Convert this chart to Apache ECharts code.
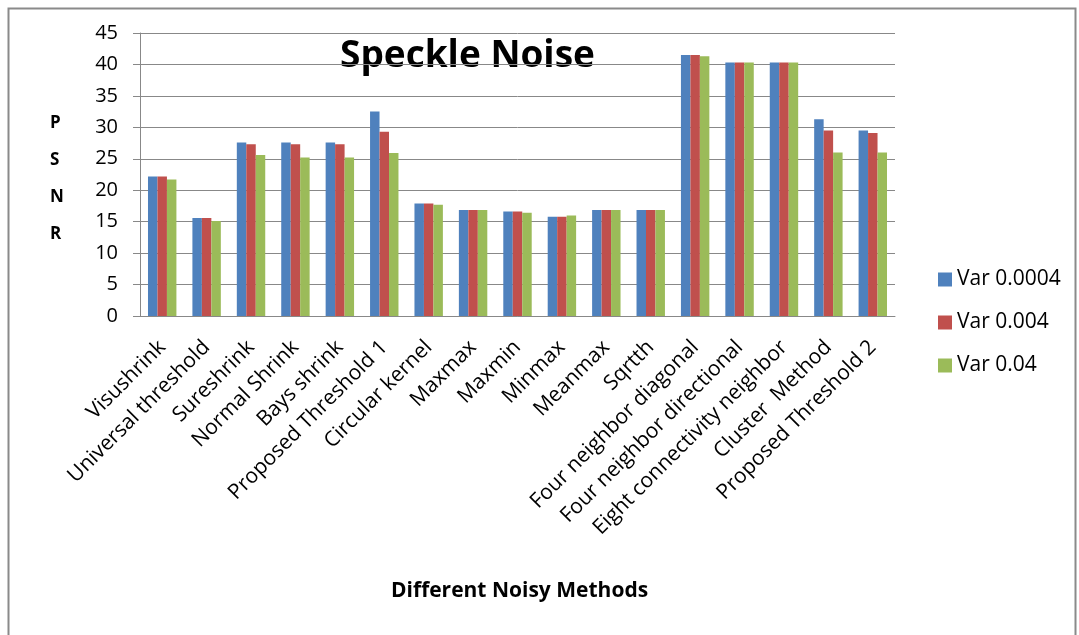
<!DOCTYPE html>
<html lang="en">
  <head>
    <meta charset="UTF-8" />
    <title>Speckle Noise</title>
    <script src="https://cdn.jsdelivr.net/npm/echarts@6/dist/echarts.min.js"></script>
  </head>

  <body style="margin: 0; background: #fff">
    <div id="main" style="width: 1079px; height: 635px"></div>

    <script type="text/javascript">
      var methods = [
        "Visushrink", "Universal threshold", "Sureshrink", "Normal Shrink",
        "Bays shrink", "Proposed Threshold 1", "Circular kernel", "Maxmax",
        "Maxmin", "Minmax", "Meanmax", "Sqrtth", "Four neighbor diagonal",
        "Four neighbor directional", "Eight connectivity neighbor",
        "Cluster  Method", "Proposed Threshold 2"
      ];
      var var00004 = [22.2, 15.6, 27.6, 27.6, 27.6, 32.5, 17.9, 16.85, 16.6, 15.8, 16.85, 16.85, 41.5, 40.3, 40.3, 31.3, 29.5];
      var var0004 = [22.2, 15.6, 27.3, 27.3, 27.3, 29.3, 17.9, 16.85, 16.6, 15.8, 16.85, 16.85, 41.5, 40.3, 40.3, 29.5, 29.1];
      var var004 = [21.7, 15.1, 25.6, 25.2, 25.2, 25.9, 17.7, 16.85, 16.4, 16.0, 16.85, 16.85, 41.3, 40.3, 40.3, 26.0, 26.0];
      var seriesNames = ["Var 0.0004", "Var 0.004", "Var 0.04"];
      var colors = ["#4F81BD", "#C0504D", "#9BBB59"];

      var font = "'Open Sans', sans-serif";
      var myChart = echarts.init(document.getElementById("main"));

      var option = {
        animation: false,
        color: colors,
        textStyle: { fontFamily: font, color: "#000" },
        grid: { left: 140, right: 184, top: 33, bottom: 319 },
        legend: {
          orient: "vertical",
          left: 933,
          top: 264,
          itemWidth: 14,
          itemHeight: 14,
          itemGap: 22,
          icon: "rect",
          textStyle: { fontSize: 21, color: "#000", fontFamily: font },
          data: seriesNames
        },
        xAxis: {
          type: "category",
          data: methods,
          axisLine: { lineStyle: { color: "#888" } },
          axisTick: { length: 6, lineStyle: { color: "#888" } },
          axisLabel: {
            rotate: 45,
            interval: 0,
            margin: 28,
            fontSize: 21,
            color: "#000",
            fontFamily: font
          }
        },
        yAxis: {
          type: "value",
          min: 0,
          max: 45,
          interval: 5,
          axisLine: { show: true, lineStyle: { color: "#888" } },
          axisTick: { show: true, length: 7, lineStyle: { color: "#888" } },
          splitLine: { lineStyle: { color: "#888" } },
          axisLabel: { fontSize: 20, margin: 22, color: "#000", fontFamily: font }
        },
        graphic: [
          {
            type: "rect",
            left: 6,
            top: 6,
            shape: { width: 1067, height: 628 },
            style: { fill: "none", stroke: "#8a8a8a", lineWidth: 2 },
            z: -1
          },
          {
            type: "text",
            left: 340,
            top: 38,
            style: {
              text: "Speckle Noise",
              font: "bold 37px " + font,
              fill: "#000"
            }
          },
          {
            type: "text",
            left: 50,
            top: 105,
            style: {
              text: "P\nS\nN\nR",
              font: "bold 17px " + font,
              lineHeight: 37,
              align: "center",
              fill: "#000"
            }
          },
          {
            type: "text",
            left: 391,
            top: 581,
            style: {
              text: "Different Noisy Methods",
              font: "bold 21px " + font,
              fill: "#000"
            }
          }
        ],
        series: [
          { name: seriesNames[0], type: "bar", data: var00004, barGap: "0%", barCategoryGap: "36%" },
          { name: seriesNames[1], type: "bar", data: var0004, barGap: "0%", barCategoryGap: "36%" },
          { name: seriesNames[2], type: "bar", data: var004, barGap: "0%", barCategoryGap: "36%" }
        ]
      };

      myChart.setOption(option);
    </script>
  </body>
</html>
